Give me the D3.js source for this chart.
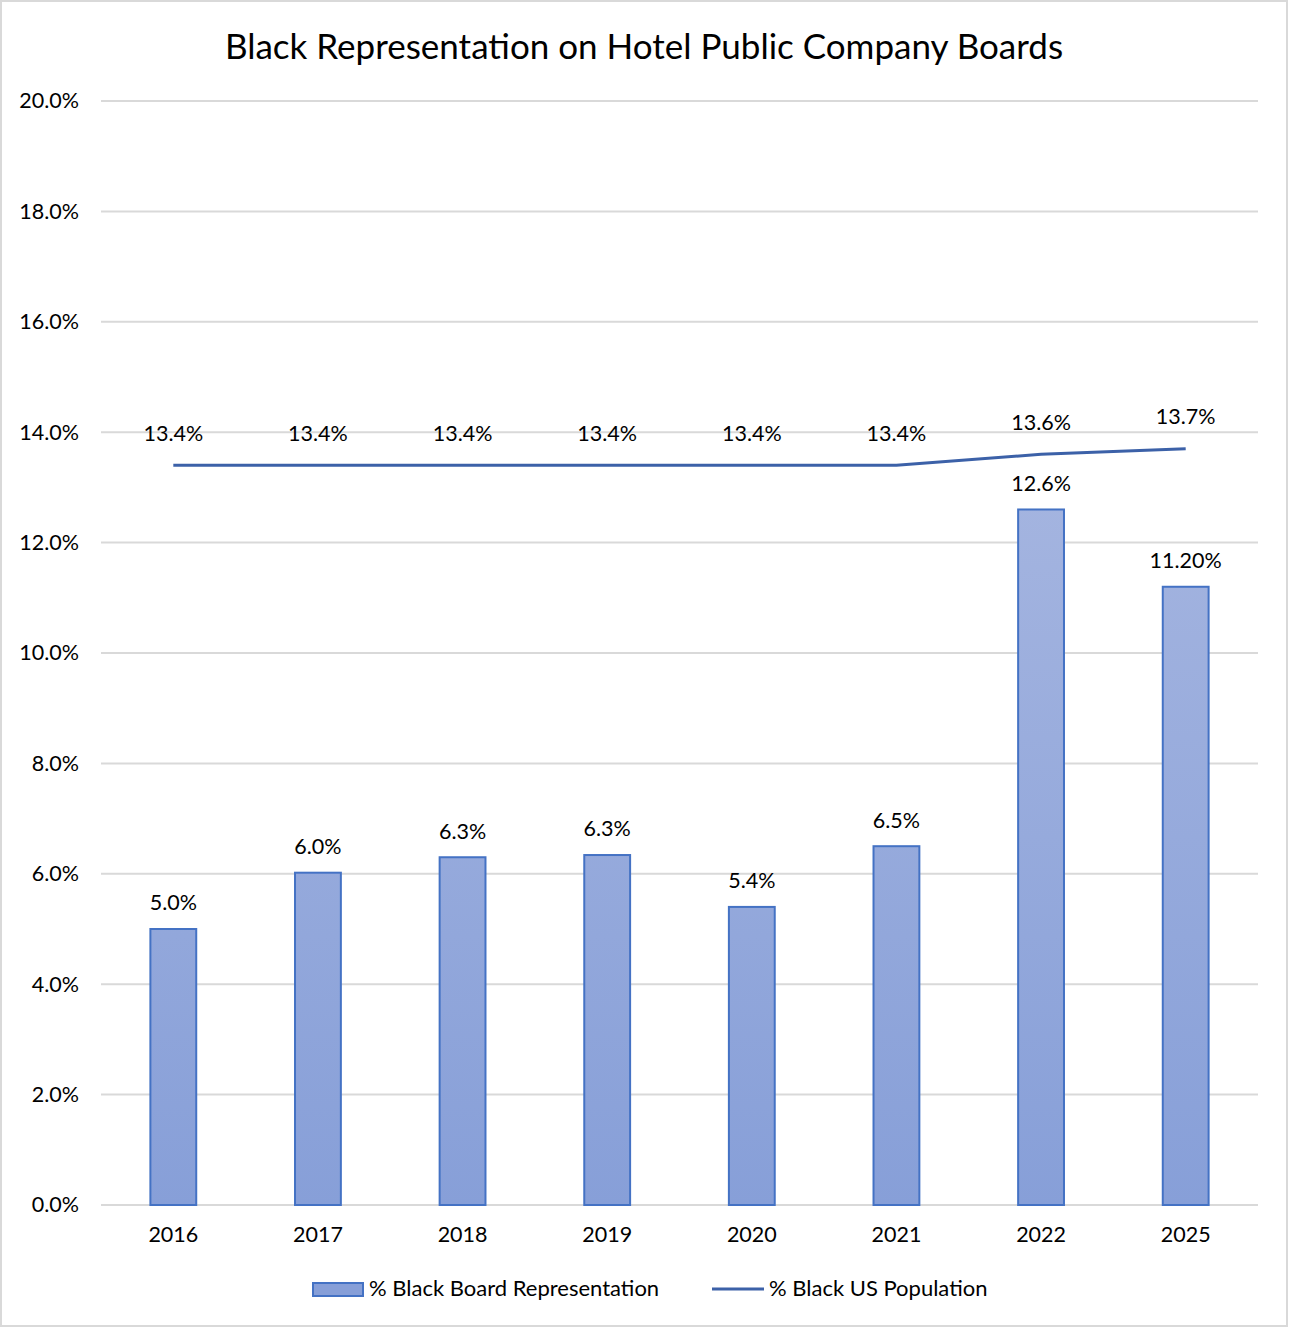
<!DOCTYPE html>
<html>
<head>
<meta charset="utf-8">
<script src="https://cdn.jsdelivr.net/npm/d3@7"></script>
<style>
  body { margin: 0; background: #fff; }
  svg { font-family: Lato, "Open Sans", sans-serif; }
</style>
</head>
<body>
<div id="container"></div>
<script>
/* DATA */
const years = ["2016", "2017", "2018", "2019", "2020", "2021", "2022", "2025"];
const boardPct = [5.0, 6.02, 6.3, 6.34, 5.4, 6.5, 12.6, 11.2];
const boardLabels = ["5.0%", "6.0%", "6.3%", "6.3%", "5.4%", "6.5%", "12.6%", "11.20%"];
const popPct = [13.4, 13.4, 13.4, 13.4, 13.4, 13.4, 13.6, 13.7];
const popLabels = ["13.4%", "13.4%", "13.4%", "13.4%", "13.4%", "13.4%", "13.6%", "13.7%"];
const yTicks = [0, 2, 4, 6, 8, 10, 12, 14, 16, 18, 20];

/* CONSTANTS */
const width = 1289;
const height = 1328;
const plot = { left: 101, right: 1258, top: 101, bottom: 1205 };
const fs = 21.5;

const svg = d3.select("#container")
  .append("svg")
  .attr("width", width)
  .attr("height", height)

// outer frame
svg.append("rect")
  .attr("x", 1).attr("y", 1)
  .attr("width", width - 3).attr("height", height - 3)
  .attr("fill", "#fff")
  .attr("stroke", "#d9d9d9")
  .attr("stroke-width", 2)

const defs = svg.append("defs")
const grad = defs.append("linearGradient")
  .attr("id", "barGrad")
  .attr("gradientUnits", "userSpaceOnUse")
  .attr("x1", 0).attr("x2", 0)
  .attr("y1", plot.top).attr("y2", plot.bottom)
grad.append("stop").attr("offset", "0%").attr("stop-color", "#b4c0e4")
grad.append("stop").attr("offset", "100%").attr("stop-color", "#879fd8")

/* SCALES */
const xScale = d3.scaleBand()
  .domain(years)
  .range([plot.left, plot.right])
  .paddingInner(0)

const barW = xScale.step() * 0.317

const yScale = d3.scaleLinear()
  .domain([0, 20])
  .range([plot.bottom, plot.top])

// title
svg.append("text")
  .attr("x", 644)
  .attr("y", 59)
  .attr("text-anchor", "middle")
  .attr("font-size", 35)
  .attr("fill", "#000")
  .text("Black Representation on Hotel Public Company Boards")

// gridlines
svg.append("g")
  .selectAll("line")
  .data(yTicks)
  .join("line")
  .attr("x1", plot.left)
  .attr("x2", plot.right)
  .attr("y1", d => yScale(d))
  .attr("y2", d => yScale(d))
  .attr("stroke", "#d9d9d9")
  .attr("stroke-width", 2)

// y axis labels
const yAxis = d3.axisLeft(yScale)
  .tickValues(yTicks)
  .tickFormat(d => d.toFixed(1) + "%")
  .tickSize(0)
  .tickPadding(22)

svg.append("g")
  .attr("transform", `translate(${plot.left},0)`)
  .call(yAxis)
  .call(g => g.select(".domain").remove())
  .selectAll("text")
  .attr("font-size", fs)
  .attr("font-family", "Lato, 'Open Sans', sans-serif")
  .attr("fill", "#000")

// x axis labels
const xAxis = d3.axisBottom(xScale).tickSize(0).tickPadding(22)
svg.append("g")
  .attr("transform", `translate(0,${plot.bottom})`)
  .call(xAxis)
  .call(g => g.select(".domain").remove())
  .selectAll("text")
  .attr("font-size", fs)
  .attr("font-family", "Lato, 'Open Sans', sans-serif")
  .attr("fill", "#000")

const cx = d => xScale(d) + xScale.bandwidth() / 2

// bars
svg.append("g")
  .selectAll("rect")
  .data(years)
  .join("rect")
  .attr("x", d => cx(d) - barW / 2)
  .attr("width", barW)
  .attr("y", (d, i) => yScale(boardPct[i]))
  .attr("height", (d, i) => yScale(0) - yScale(boardPct[i]))
  .attr("fill", "url(#barGrad)")
  .attr("stroke", "#4472c4")
  .attr("stroke-width", 2)

// bar labels
svg.append("g")
  .selectAll("text")
  .data(years)
  .join("text")
  .attr("x", d => cx(d))
  .attr("y", (d, i) => yScale(boardPct[i]) - 24)
  .attr("text-anchor", "middle")
  .attr("dominant-baseline", "middle")
  .attr("font-size", fs)
  .text((d, i) => boardLabels[i])

// population line
const line = d3.line()
  .x((d, i) => cx(years[i]))
  .y(d => yScale(d))

svg.append("path")
  .datum(popPct)
  .attr("d", line)
  .attr("fill", "none")
  .attr("stroke", "#3c61a8")
  .attr("stroke-width", 3)

svg.append("g")
  .selectAll("text")
  .data(popPct)
  .join("text")
  .attr("x", (d, i) => cx(years[i]))
  .attr("y", d => yScale(d) - 30)
  .attr("text-anchor", "middle")
  .attr("dominant-baseline", "middle")
  .attr("font-size", fs)
  .text((d, i) => popLabels[i])

/* LEGEND */
const legend = svg.append("g")
legend.append("rect")
  .attr("x", 313).attr("y", 1283)
  .attr("width", 50).attr("height", 13)
  .attr("fill", "url(#barGrad)")
  .attr("stroke", "#4472c4")
  .attr("stroke-width", 2)
legend.append("text")
  .attr("x", 369).attr("y", 1290)
  .attr("dominant-baseline", "middle")
  .attr("font-size", 22)
  .text("% Black Board Representation")
legend.append("line")
  .attr("x1", 712).attr("x2", 764)
  .attr("y1", 1289).attr("y2", 1289)
  .attr("stroke", "#3c61a8")
  .attr("stroke-width", 3)
legend.append("text")
  .attr("x", 769).attr("y", 1290)
  .attr("dominant-baseline", "middle")
  .attr("font-size", 22)
  .text("% Black US Population")
</script>
</body>
</html>
